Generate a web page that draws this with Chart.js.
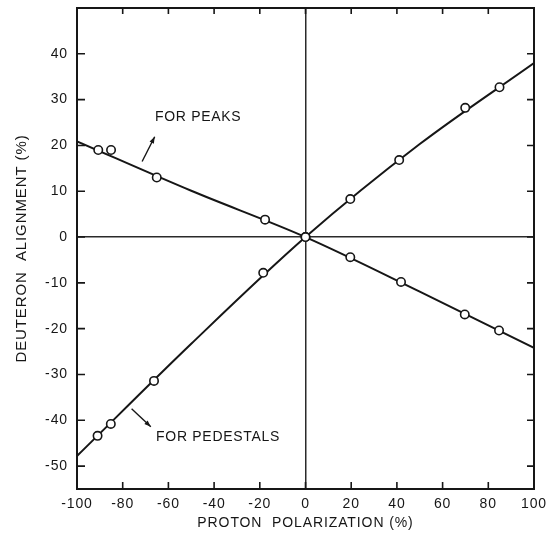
<!DOCTYPE html>
<html>
<head>
<meta charset="utf-8">
<script src="https://cdn.jsdelivr.net/npm/chart.js@4/dist/chart.umd.min.js"></script>
<style>
  html, body { margin: 0; padding: 0; background: #fff; }
  #wrap { width: 551px; height: 542px; }
</style>
</head>
<body>
<div id="wrap"><canvas id="c" width="551" height="542"></canvas></div>
<script>
// ---- data ----
const peaksX = [-90.7, -85.1, -65.1, -17.7, 0, 19.6, 41.8, 69.7, 84.7];
const peaksY = [19.0, 19.0, 13.0, 3.8, 0, -4.4, -9.8, -16.9, -20.4];
const pedestalsX = [-91.0, -85.2, -66.3, -18.5, 0, 19.6, 41.0, 69.9, 84.9];
const pedestalsY = [-43.4, -40.8, -31.4, -7.8, 0, 8.3, 16.8, 28.2, 32.7];
const curveX = [-100, -50, 0, 50, 100];
const peaksCurveY = [20.9, 10.1, 0, -11.9, -24.2];
const pedestalsCurveY = [-47.8, -23.3, 0, 20.3, 38.0];
const xTicks = [-100, -80, -60, -40, -20, 0, 20, 40, 60, 80, 100];
const yTicks = [-50, -40, -30, -20, -10, 0, 10, 20, 30, 40];
const xTitle = 'PROTON  POLARIZATION (%)';
const yTitle = 'DEUTERON  ALIGNMENT (%)';
const notes = [
  { text: 'FOR PEAKS', at: [-65.9, 26.1], from: [-71.5, 16.5], to: [-66.0, 21.9] },
  { text: 'FOR PEDESTALS', at: [-65.4, -43.7], from: [-76.1, -37.5], to: [-67.7, -41.4] }
];

const zip = (xs, ys) => xs.map((x, i) => ({ x, y: ys[i] }));
const INK = '#161616';
const FONT = "'Liberation Sans', Arial, sans-serif";

const framePlugin = {
  id: 'frame',
  beforeDraw(chart) {
    try { chart.ctx.letterSpacing = '0.9px'; } catch (e) {}
  },
  afterDatasetsDraw(chart) {
    const { ctx, chartArea: a, scales: { x, y } } = chart;
    ctx.save();
    ctx.strokeStyle = INK;
    ctx.lineWidth = 2;
    ctx.strokeRect(a.left, a.top, a.right - a.left, a.bottom - a.top);
    ctx.lineWidth = 1.6;
    ctx.beginPath();
    xTicks.forEach(v => {
      if (v === x.min || v === x.max) return;
      const px = x.getPixelForValue(v);
      ctx.moveTo(px, a.bottom); ctx.lineTo(px, a.bottom - 7);
      ctx.moveTo(px, a.top); ctx.lineTo(px, a.top + 6);
    });
    yTicks.forEach(v => {
      const py = y.getPixelForValue(v);
      ctx.moveTo(a.left, py); ctx.lineTo(a.left + 8, py);
      ctx.moveTo(a.right, py); ctx.lineTo(a.right - 7, py);
    });
    ctx.stroke();

    // annotations
    ctx.fillStyle = INK;
    ctx.font = '14px ' + FONT;
    ctx.textAlign = 'left';
    ctx.textBaseline = 'middle';
    try { ctx.letterSpacing = '0.7px'; } catch (e) {}
    notes.forEach(n => {
      ctx.fillText(n.text, x.getPixelForValue(n.at[0]), y.getPixelForValue(n.at[1]));
      const x0 = x.getPixelForValue(n.from[0]), y0 = y.getPixelForValue(n.from[1]);
      const x1 = x.getPixelForValue(n.to[0]), y1 = y.getPixelForValue(n.to[1]);
      ctx.lineWidth = 1.4;
      ctx.beginPath(); ctx.moveTo(x0, y0); ctx.lineTo(x1, y1); ctx.stroke();
      const ang = Math.atan2(y1 - y0, x1 - x0), L = 7, w = 0.35;
      ctx.beginPath();
      ctx.moveTo(x1, y1);
      ctx.lineTo(x1 - L * Math.cos(ang - w), y1 - L * Math.sin(ang - w));
      ctx.lineTo(x1 - L * Math.cos(ang + w), y1 - L * Math.sin(ang + w));
      ctx.closePath(); ctx.fill();
    });
    ctx.restore();
  }
};

const zeroLine = ctx => (ctx.tick && ctx.tick.value === 0) ? '#2a2a2a' : 'rgba(0,0,0,0)';

new Chart(document.getElementById('c'), {
  type: 'scatter',
  data: {
    datasets: [
      { label: 'peaks', data: zip(peaksX, peaksY), order: 0,
        pointRadius: 4.2, pointBackgroundColor: '#fff', pointBorderColor: INK, pointBorderWidth: 1.6, showLine: false },
      { label: 'pedestals', data: zip(pedestalsX, pedestalsY), order: 0,
        pointRadius: 4.2, pointBackgroundColor: '#fff', pointBorderColor: INK, pointBorderWidth: 1.6, showLine: false },
      { label: 'peaks fit', data: zip(curveX, peaksCurveY), order: 1, showLine: true,
        pointRadius: 0, borderColor: INK, borderWidth: 2, cubicInterpolationMode: 'monotone' },
      { label: 'pedestals fit', data: zip(curveX, pedestalsCurveY), order: 1, showLine: true,
        pointRadius: 0, borderColor: INK, borderWidth: 2, cubicInterpolationMode: 'monotone' }
    ]
  },
  options: {
    responsive: false,
    devicePixelRatio: 1,
    animation: false,
    layout: { padding: { top: 8, right: 17, left: 0, bottom: 0 } },
    plugins: { legend: { display: false }, tooltip: { enabled: false } },
    scales: {
      x: {
        type: 'linear', min: -100, max: 100,
        afterBuildTicks: s => { s.ticks = xTicks.map(v => ({ value: v })); },
        afterFit: s => { s.height = 53; s.paddingLeft = 0; s.paddingRight = 0; },
        grid: { color: zeroLine, lineWidth: 1.5, drawTicks: false },
        border: { display: false },
        ticks: { color: INK, font: { family: FONT, size: 14 }, padding: 7, maxRotation: 0, autoSkip: false },
        title: { display: true, text: xTitle, color: INK, font: { family: FONT, size: 14 }, padding: { top: 0, bottom: 10 } }
      },
      y: {
        type: 'linear', min: -55, max: 50,
        afterBuildTicks: s => { s.ticks = yTicks.map(v => ({ value: v })); },
        afterFit: s => { s.width = 77; s.paddingTop = 0; s.paddingBottom = 0; },
        grid: { color: zeroLine, lineWidth: 1.5, drawTicks: false },
        border: { display: false },
        ticks: { color: INK, font: { family: FONT, size: 14 }, padding: 9, autoSkip: false },
        title: { display: true, text: yTitle, color: INK, font: { family: FONT, size: 15 }, padding: { top: 13, bottom: 0 } }
      }
    }
  },
  plugins: [framePlugin]
});
</script>
</body>
</html>
